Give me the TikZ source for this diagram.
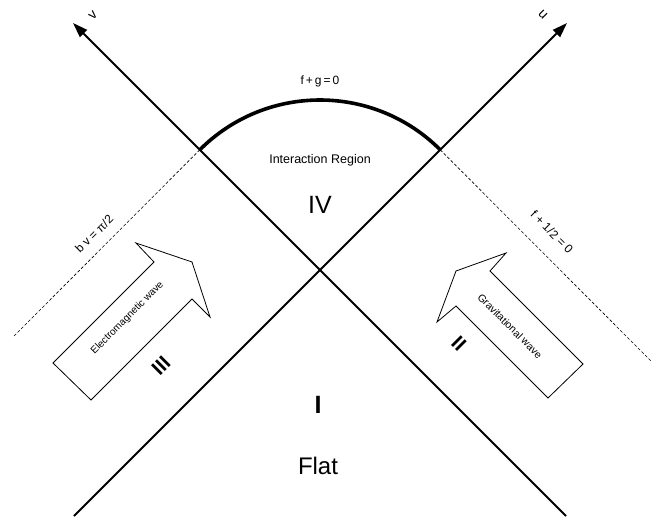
\documentclass[tikz,border=0pt]{standalone}
\usepackage{fontspec}
\setmainfont{Liberation Sans}
\usetikzlibrary{arrows.meta}
\begin{document}
\begin{tikzpicture}[x=1pt,y=-1pt,
  axisline/.style={line width=1.8pt, -{Triangle[length=15pt,width=10pt]}},
  arcline/.style={line width=3.6pt},
  dashline/.style={line width=0.6pt, dash pattern=on 3pt off 2pt},
  blockarrow/.style={line width=0.8pt, line join=miter},
  lbl/.style={inner sep=0pt, font=\fontsize{12}{14}\selectfont},
  region/.style={inner sep=0pt, font=\fontsize{25}{28}\selectfont},
  wavetxt/.style={inner sep=0pt, font=\fontsize{10}{12}\selectfont}]
\useasboundingbox (0,0) rectangle (663,516);
% key points
\coordinate (O) at (320,270);
\coordinate (vtip) at (73,23);
\coordinate (utip) at (567,23);
\coordinate (ubot) at (74,516);
\coordinate (vbot) at (566,516);
\coordinate (A) at (199.8,149.8);
\coordinate (B) at (440.2,149.8);
\coordinate (dl) at (13,337);
\coordinate (dr) at (651,361);
% axes
\draw[axisline] (ubot) -- (utip);
\draw[axisline] (vbot) -- (vtip);
\node[lbl, font=\fontsize{14}{16}\selectfont, rotate=45] (vlab) at (93,15) {v};
\node[lbl, font=\fontsize{14}{16}\selectfont, rotate=-45] (ulab) at (543,15) {u};
% arc f+g=0
\draw[arcline] (A) arc[start angle=225, end angle=315, radius=170];
\node[lbl] (fg) at (320,81) {f\,+\,g\,=\,0};
% dashed boundaries
\draw[dashline] (A) -- (dl);
\draw[dashline] (B) -- (dr);
\node[lbl, rotate=45] (bv) at (94,234) {b v = π/2};
\node[lbl, rotate=-45] (fh) at (552,232) {f + 1/2 = 0};
% region labels
\node[lbl, font=\fontsize{12.5}{14}\selectfont] (ir) at (320,160) {Interaction Region};
\node[region] (IV) at (320,205) {IV};
\node[region, font=\fontsize{25}{28}\selectfont\bfseries] (I) at (318,405) {I};
\node[region, font=\fontsize{24}{28}\selectfont] (flat) at (318,466) {Flat};
\node[region, font=\fontsize{20}{24}\selectfont\bfseries, rotate=45] (III) at (161,366) {III};
\node[region, font=\fontsize{20}{24}\selectfont\bfseries, rotate=-45] (II) at (459,344) {II};
% electromagnetic wave arrow
\draw[blockarrow] (53,363) -- (154,262) -- (136,243) -- (192,262) -- (210,317) -- (192,299) -- (91,400) -- cycle;
\node[wavetxt, rotate=45] (em) at (127.5,318) {Electromagnetic wave};
% gravitational wave arrow
\draw[blockarrow] (583,364) -- (490,271) -- (506,253) -- (456,271) -- (437,322) -- (456,306) -- (548,398) -- cycle;
\node[wavetxt, font=\fontsize{10.5}{12}\selectfont, rotate=-45] (gw) at (510,326) {Gravitational wave};
\end{tikzpicture}
\end{document}
